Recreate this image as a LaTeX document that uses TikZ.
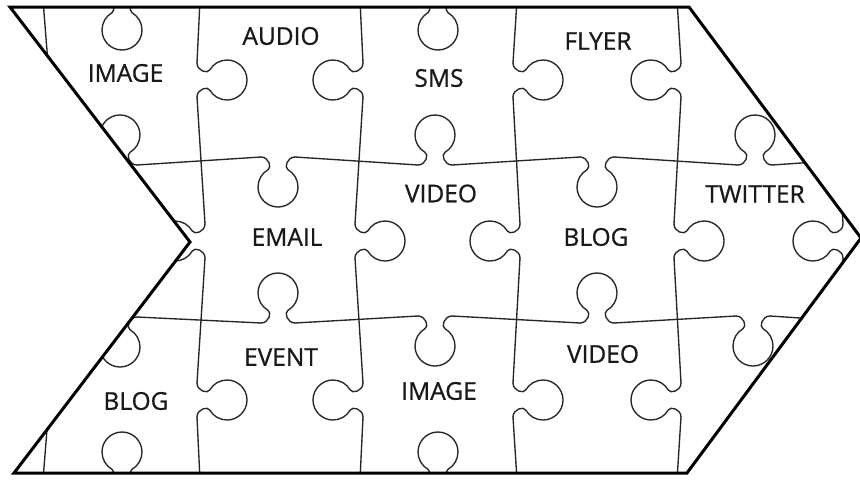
\documentclass[tikz,border=0pt]{standalone}
\usepackage{fontspec}
\setmainfont{Open Sans}
\newfontfamily\lblfont{Open Sans}[FakeBold=0.8]
\begin{document}
\begin{tikzpicture}[x=1pt,y=-1pt,
  puz/.style={draw=black!85,line width=1.35pt,line cap=round,line join=round},
  frame/.style={draw=black,line width=3pt,line join=miter},
  lbl/.style={inner sep=0pt,anchor=center,text=black!90,font=\lblfont\fontsize{24.5}{29}\selectfont},
  knob/.pic={\draw[puz] (-17,0) .. controls (-9,0) and (-6,10.7) .. (-10,12.68)
     .. controls (-16.19,16.26) and (-20,22.85) .. (-20,30)
     .. controls (-20,41.05) and (-11.05,50) .. (0,50)
     .. controls (11.05,50) and (20,41.05) .. (20,30)
     .. controls (20,22.85) and (16.19,16.26) .. (10,12.68)
     .. controls (6,10.7) and (9,0) .. (17,0);}]
\useasboundingbox (0,0) rectangle (860,480);
\fill[white] (0,0) rectangle (860,480);
\begin{scope}
\clip (10,7) -- (689,7) -- (861,238) -- (687,473) -- (14,473) -- (190,242) -- cycle;
% top row line knobs
\pic at (122,0) {knob};
\pic at (438,0) {knob};
% horizontal line 1
\draw[puz] (0,171) -- (103,165);
\draw[puz] (137,165) -- (261,157);
\draw[puz] (295,157) -- (418,165);
\draw[puz] (452,165) -- (580,157);
\draw[puz] (614,157) -- (738,165);
\draw[puz] (772,165) -- (860,159);
\pic[rotate=180] at (120,165) {knob};
\pic at (278,157) {knob};
\pic[rotate=180] at (435,165) {knob};
\pic at (597,157) {knob};
\pic[rotate=180] at (755,165) {knob};
% horizontal line 2
\draw[puz] (0,311) -- (103,317);
\draw[puz] (137,317) -- (261,323);
\draw[puz] (295,323) -- (418,316);
\draw[puz] (452,316) -- (580,323);
\draw[puz] (614,323) -- (736,316);
\draw[puz] (770,316) -- (860,322);
\pic at (120,317) {knob};
\pic[rotate=180] at (278,323) {knob};
\pic at (435,316) {knob};
\pic[rotate=180] at (597,323) {knob};
\pic at (753,316) {knob};
% bottom line knobs
\pic[rotate=180] at (122,482) {knob};
\pic[rotate=180] at (438,482) {knob};
% vertical x=45
\draw[puz] (43,0) -- (48,63);
\draw[puz] (48,417) -- (43,480);
\pic[rotate=-90] at (48,80) {knob};
\pic[rotate=90] at (41,241) {knob};
\pic[rotate=-90] at (48,400) {knob};
\draw[puz] (48,97) -- (41,224);
\draw[puz] (41,258) -- (48,383);
% vertical x=200
\draw[puz] (200,0) -- (197,63);
\draw[puz] (197,97) -- (205,224);
\draw[puz] (205,258) -- (197,383);
\draw[puz] (197,417) -- (200,480);
\pic[rotate=90] at (197,80) {knob};
\pic[rotate=-90] at (205,241) {knob};
\pic[rotate=90] at (197,400) {knob};
% vertical x=360
\draw[puz] (360,0) -- (363,63);
\draw[puz] (363,97) -- (355,224);
\draw[puz] (355,258) -- (363,383);
\draw[puz] (363,417) -- (360,480);
\pic[rotate=-90] at (363,80) {knob};
\pic[rotate=90] at (355,241) {knob};
\pic[rotate=-90] at (363,400) {knob};
% vertical x=517
\draw[puz] (517,0) -- (513,63);
\draw[puz] (513,97) -- (520,224);
\draw[puz] (520,258) -- (513,383);
\draw[puz] (513,417) -- (517,480);
\pic[rotate=90] at (513,80) {knob};
\pic[rotate=-90] at (520,241) {knob};
\pic[rotate=90] at (513,400) {knob};
% vertical x=678
\draw[puz] (677,0) -- (681,63);
\draw[puz] (681,97) -- (674,224);
\draw[puz] (674,258) -- (681,383);
\draw[puz] (681,417) -- (677,480);
\pic[rotate=-90] at (681,80) {knob};
\pic[rotate=90] at (674,241) {knob};
\pic[rotate=-90] at (681,400) {knob};
% vertical x=840
\draw[puz] (840,0) -- (837,63);
\draw[puz] (837,97) -- (843,224);
\draw[puz] (843,258) -- (837,383);
\draw[puz] (837,417) -- (840,480);
\pic[rotate=90] at (837,80) {knob};
\pic[rotate=-90] at (843,241) {knob};
\pic[rotate=90] at (837,400) {knob};
\end{scope}
\draw[frame] (10,7) -- (689,7) -- (861,238) -- (687,473) -- (14,473) -- (190,242) -- cycle;
% labels
\node[lbl] (l1) at (125.5,73) {IMAGE};
\node[lbl] (l2) at (281,36) {AUDIO};
\node[lbl] (l3) at (439,78) {SMS};
\node[lbl] (l4) at (598,41) {FLYER};
\node[lbl] (l5) at (441,193.5) {VIDEO};
\node[lbl] (l6) at (755,194) {TWITTER};
\node[lbl] (l7) at (287,237) {EMAIL};
\node[lbl] (l8) at (596,237) {BLOG};
\node[lbl] (l9) at (281,357) {EVENT};
\node[lbl] (l10) at (439,391) {IMAGE};
\node[lbl] (l11) at (603,354) {VIDEO};
\node[lbl] (l12) at (136,401) {BLOG};
\end{tikzpicture}
\end{document}
